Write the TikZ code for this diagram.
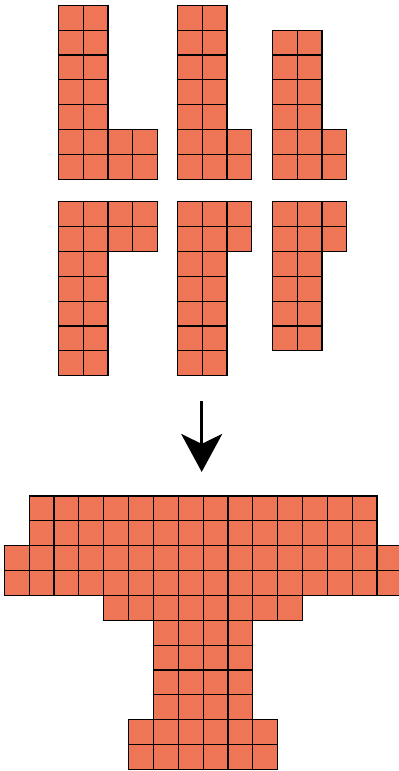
\documentclass[tikz,border=0pt]{standalone}
\usetikzlibrary{arrows.meta}
\definecolor{tilefill}{RGB}{238,118,87}
\begin{document}
\begin{tikzpicture}[x=12.425pt, y=-12.425pt, tile/.style={draw=black, fill=tilefill, line width=0.6pt}, >={Stealth[length=19pt, width=20.5pt, inset=5pt]}]
  \useasboundingbox (0,0) rectangle (16.056,31.026);
  % upper pieces
  \begin{scope}[shift={(2.346,0.213)}]
    \foreach \r in {0,...,4} \foreach \c in {0,1} \draw[tile] (\c,\r) rectangle ++(1,1);
    \foreach \r in {5,6} \foreach \c in {0,...,3} \draw[tile] (\c,\r) rectangle ++(1,1);
  \end{scope}
  \begin{scope}[shift={(7.135,0.213)}]
    \foreach \r in {0,...,4} \foreach \c in {0,1} \draw[tile] (\c,\r) rectangle ++(1,1);
    \foreach \r in {5,6} \foreach \c in {0,...,2} \draw[tile] (\c,\r) rectangle ++(1,1);
  \end{scope}
  \begin{scope}[shift={(10.958,1.213)}]
    \foreach \r in {0,...,3} \foreach \c in {0,1} \draw[tile] (\c,\r) rectangle ++(1,1);
    \foreach \r in {4,5} \foreach \c in {0,...,2} \draw[tile] (\c,\r) rectangle ++(1,1);
  \end{scope}
  % lower pieces
  \begin{scope}[shift={(2.346,8.117)}]
    \foreach \r in {0,1} \foreach \c in {0,...,3} \draw[tile] (\c,\r) rectangle ++(1,1);
    \foreach \r in {2,...,6} \foreach \c in {0,1} \draw[tile] (\c,\r) rectangle ++(1,1);
  \end{scope}
  \begin{scope}[shift={(7.135,8.117)}]
    \foreach \r in {0,1} \foreach \c in {0,...,2} \draw[tile] (\c,\r) rectangle ++(1,1);
    \foreach \r in {2,...,6} \foreach \c in {0,1} \draw[tile] (\c,\r) rectangle ++(1,1);
  \end{scope}
  \begin{scope}[shift={(10.958,8.117)}]
    \foreach \r in {0,1} \foreach \c in {0,...,2} \draw[tile] (\c,\r) rectangle ++(1,1);
    \foreach \r in {2,...,5} \foreach \c in {0,1} \draw[tile] (\c,\r) rectangle ++(1,1);
  \end{scope}
  % arrow
  \coordinate (arrowtop) at (8.117,16.14);
  \coordinate (arrowtip) at (8.117,18.99);
  \draw[->, line width=1.35pt] (arrowtop) -- (arrowtip);
  % assembled shape
  \begin{scope}[shift={(0.173,19.96)}]
    \foreach \r in {0,1} \foreach \c in {1,...,14} \draw[tile] (\c,\r) rectangle ++(1,1);
    \foreach \r in {2,3} \foreach \c in {0,...,15} \draw[tile] (\c,\r) rectangle ++(1,1);
    \foreach \c in {4,...,11} \draw[tile] (\c,4) rectangle ++(1,1);
    \foreach \r in {5,...,8} \foreach \c in {6,...,9} \draw[tile] (\c,\r) rectangle ++(1,1);
    \foreach \r in {9,10} \foreach \c in {5,...,10} \draw[tile] (\c,\r) rectangle ++(1,1);
  \end{scope}
\end{tikzpicture}
\end{document}
